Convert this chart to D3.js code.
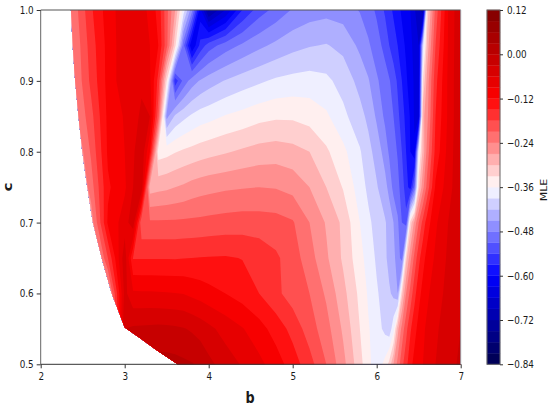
<!DOCTYPE html>
<html>
<head>
<meta charset="utf-8">
<script src="https://cdn.jsdelivr.net/npm/d3@7"></script>
<style>
  html, body { margin: 0; padding: 0; background: #fff; }
  svg { display: block; }
  text { font-family: "DejaVu Sans", sans-serif; fill: #1a1a1a; }
</style>
</head>
<body>
<div id="chart"></div>
<script>
// columns (b) and rows (c) of the value table
var bValues = [2.2,2.4,2.6,2.8,3.0,3.1,3.2,3.3,3.4,3.5,3.6,3.7,3.8,3.9,4.0,4.2,4.4,4.6,4.8,5.0,5.2,5.4,5.6,5.8,5.9,6.0,6.1,6.15,6.2,6.25,6.3,6.35,6.4,6.45,6.5,6.55,6.6,6.7,6.85,7.0];
var cValues = [1.0,0.95,0.9,0.85,0.8,0.75,0.7,0.65,0.6,0.55,0.5];

var mle100 = [-.30,-.225,-.155,-.105,-.072,-.06,-.075,-.10,-.13,-.20,-.27,-.375,-.47,-.62,-.73,-.66,-.57,-.525,-.50,-.477,-.465,-.46,-.465,-.482,-.497,-.515,-.545,-.56,-.575,-.59,-.605,-.62,-.63,-.655,-.69,-.72,-.32,-.20,-.09,-.03];
var mle095 = [-.30,-.235,-.165,-.11,-.07,-.06,-.07,-.09,-.12,-.20,-.32,-.50,-.63,-.56,-.525,-.495,-.475,-.457,-.443,-.43,-.422,-.418,-.428,-.457,-.475,-.497,-.52,-.54,-.555,-.57,-.59,-.605,-.622,-.64,-.66,-.40,-.29,-.18,-.088,-.03];
var mle090 = [-.30,-.24,-.172,-.11,-.07,-.062,-.065,-.085,-.16,-.33,-.56,-.50,-.465,-.447,-.435,-.418,-.405,-.395,-.385,-.38,-.377,-.383,-.402,-.43,-.447,-.475,-.497,-.507,-.525,-.545,-.57,-.595,-.615,-.635,-.655,-.33,-.26,-.16,-.085,-.03];
var mle085 = [-.30,-.25,-.19,-.113,-.087,-.07,-.055,-.06,-.2,-.46,-.415,-.398,-.385,-.375,-.37,-.358,-.35,-.34,-.335,-.335,-.342,-.355,-.382,-.41,-.427,-.455,-.487,-.498,-.51,-.532,-.555,-.58,-.603,-.635,-.645,-.28,-.25,-.15,-.085,-.03];
var mle080 = [-.35,-.28,-.205,-.115,-.09,-.065,-.035,-.12,-.345,-.34,-.332,-.325,-.32,-.315,-.31,-.303,-.295,-.288,-.285,-.29,-.30,-.325,-.352,-.387,-.41,-.432,-.463,-.485,-.497,-.513,-.54,-.57,-.60,-.625,-.37,-.29,-.23,-.14,-.08,-.03];
var mle075 = [-.35,-.30,-.225,-.125,-.095,-.06,-.035,-.285,-.28,-.276,-.27,-.265,-.258,-.253,-.25,-.245,-.242,-.24,-.242,-.25,-.27,-.30,-.332,-.375,-.397,-.417,-.44,-.46,-.49,-.50,-.525,-.555,-.585,-.50,-.31,-.25,-.20,-.115,-.075,-.03];
var mle070 = [-.37,-.33,-.26,-.115,-.075,-.04,-.205,-.205,-.205,-.205,-.205,-.204,-.203,-.202,-.20,-.197,-.195,-.196,-.198,-.207,-.24,-.273,-.307,-.36,-.383,-.402,-.417,-.432,-.45,-.475,-.51,-.53,-.32,-.26,-.21,-.17,-.135,-.095,-.06,-.03];
var mle065 = [-.41,-.36,-.31,-.18,-.04,-.152,-.152,-.152,-.152,-.152,-.152,-.151,-.15,-.149,-.148,-.147,-.151,-.16,-.175,-.195,-.227,-.265,-.305,-.35,-.372,-.395,-.413,-.432,-.443,-.462,-.495,-.31,-.25,-.20,-.16,-.13,-.11,-.085,-.055,-.03];
var mle060 = [-.44,-.40,-.36,-.27,-.05,-.085,-.086,-.086,-.087,-.088,-.089,-.091,-.097,-.103,-.11,-.12,-.133,-.15,-.172,-.195,-.21,-.245,-.29,-.338,-.364,-.386,-.405,-.415,-.428,-.45,-.31,-.24,-.20,-.16,-.13,-.11,-.095,-.075,-.05,-.03];
var mle055 = [-.47,-.44,-.40,-.32,-.03,-.025,-.024,-.023,-.022,-.023,-.025,-.028,-.034,-.042,-.052,-.072,-.088,-.108,-.133,-.16,-.195,-.228,-.275,-.33,-.357,-.377,-.398,-.41,-.37,-.28,-.23,-.19,-.155,-.13,-.11,-.095,-.085,-.065,-.045,-.03];
var mle050 = [-.5,-.46,-.4,-.3,0,.005,.01,.012,.012,.012,.01,.006,.002,-.006,-.022,-.044,-.063,-.082,-.105,-.135,-.168,-.21,-.26,-.32,-.35,-.38,-.35,-.32,-.27,-.23,-.19,-.16,-.13,-.11,-.10,-.09,-.08,-.06,-.04,-.025];

// edge of the solved region (white outside it)
var edgeB = [2.36,2.38,2.41,2.45,2.495,2.555,2.62,2.726,2.845,3.0,3.18,3.38,3.63];
var edgeC = [1.0,0.95,0.9,0.85,0.8,0.75,0.7,0.65,0.6,0.552,0.537,0.52,0.5];

var levels = [-0.84,-0.81,-0.78,-0.75,-0.72,-0.69,-0.66,-0.63,-0.60,-0.57,-0.54,-0.51,-0.48,-0.45,-0.42,-0.39,-0.36,-0.33,-0.30,-0.27,-0.24,-0.21,-0.18,-0.15,-0.12,-0.09,-0.06,-0.03,0,0.03,0.06,0.09,0.12];
var cbarTicks = [-0.84,-0.72,-0.60,-0.48,-0.36,-0.24,-0.12,0,0.12];
var bTicks = [2,3,4,5,6,7];
var cTicks = [0.5,0.6,0.7,0.8,0.9,1.0];

var seismicPos = [0,0.25,0.5,0.75,1];
var seismicCol = ["#00004d","#0000ff","#ffffff","#ff0000","#800000"];

var width = 550, height = 409;
var plot = {left: 40.7, right: 460.7, top: 10, bottom: 364.3};
var bar = {left: 487, right: 500};
var squeeze = 0.8; // the picture is narrowed a bit, text included

var svg = d3.select("#chart").append("svg")
    .attr("width", width)
    .attr("height", height);

var x = d3.scaleLinear().domain([2, 7]).range([plot.left, plot.right]);
var y = d3.scaleLinear().domain([0.5, 1]).range([plot.bottom, plot.top]);
var barY = d3.scaleLinear().domain([-0.84, 0.12]).range([plot.bottom, plot.top]);

var seismic = d3.scaleLinear().domain(seismicPos).range(seismicCol).interpolate(d3.interpolateRgb);
function bandColor(i) {
    var mid = (levels[i] + levels[i + 1]) / 2;
    return seismic((mid - levels[0]) / (levels[levels.length - 1] - levels[0]));
}

var rows = [mle100, mle095, mle090, mle085, mle080, mle075, mle070, mle065, mle060, mle055, mle050];
var grid = d3.merge(rows);

// grid index to data value, the table is not evenly spaced in b
var colToB = d3.scaleLinear().domain(d3.range(bValues.length)).range(bValues);
var rowToC = d3.scaleLinear().domain(d3.range(cValues.length)).range(cValues);

var project = d3.geoTransform({
    point: function(gx, gy) {
        this.stream.point(x(colToB(gx - 0.5)), y(rowToC(gy - 0.5)));
    }
});
var path = d3.geoPath(project);

var contours = d3.contours()
    .size([bValues.length, cValues.length])
    .thresholds(levels.slice(0, -1));

// clip to the solved region
var clipPoints = d3.zip(edgeB, edgeC).concat([[7, 0.5], [7, 1]]);
var clipLine = d3.line()
    .x(function(d) { return x(d[0]); })
    .y(function(d) { return y(d[1]); });

svg.append("clipPath").attr("id", "solved")
    .append("path")
    .attr("d", clipLine(clipPoints) + "Z");

var g = svg.append("g").attr("clip-path", "url(#solved)");

// lowest band first so the later ones paint over it
g.append("rect")
    .attr("x", plot.left)
    .attr("y", plot.top)
    .attr("width", plot.right - plot.left)
    .attr("height", plot.bottom - plot.top)
    .attr("fill", bandColor(0));

g.selectAll("path.band")
    .data(contours(grid))
    .enter().append("path")
    .attr("class", "band")
    .attr("d", path)
    .attr("fill", function(d, i) { return bandColor(i); });

// frame
var frame = svg.append("g").attr("stroke-width", 1).attr("fill", "none");
frame.append("line").attr("x1", plot.left).attr("x2", plot.right).attr("y1", plot.top).attr("y2", plot.top).attr("stroke", "#555");
frame.append("line").attr("x1", plot.left).attr("x2", plot.right).attr("y1", plot.bottom).attr("y2", plot.bottom).attr("stroke", "#333");
frame.append("line").attr("x1", plot.left).attr("x2", plot.left).attr("y1", plot.top).attr("y2", plot.bottom).attr("stroke", "#666");
frame.append("line").attr("x1", plot.right).attr("x2", plot.right).attr("y1", plot.top).attr("y2", plot.bottom).attr("stroke", "#9aa8b0");

function styleAxis(sel, textX) {
    sel.select(".domain").remove();
    sel.selectAll(".tick line").attr("stroke", "#333");
    sel.selectAll(".tick text")
        .style("font-size", "11px")
        .attr("x", textX / squeeze)
        .attr("transform", "scale(" + squeeze + ",1)");
}

var xAxis = svg.append("g")
    .attr("transform", "translate(0," + plot.bottom + ")")
    .call(d3.axisBottom(x).tickValues(bTicks).tickSize(4).tickFormat(d3.format("d")));
styleAxis(xAxis, 0);
xAxis.selectAll(".tick text").attr("y", 8).attr("dy", "0.71em");

var yAxis = svg.append("g")
    .attr("transform", "translate(" + plot.left + ",0)")
    .call(d3.axisLeft(y).tickValues(cTicks).tickSize(4).tickFormat(d3.format(".1f")));
styleAxis(yAxis, -7);

// colorbar
var barG = svg.append("g");
barG.selectAll("rect")
    .data(d3.range(levels.length - 1))
    .enter().append("rect")
    .attr("x", bar.left)
    .attr("width", bar.right - bar.left)
    .attr("y", function(i) { return barY(levels[i + 1]); })
    .attr("height", function(i) { return barY(levels[i]) - barY(levels[i + 1]); })
    .attr("fill", function(i) { return bandColor(i); })
    .attr("stroke", function(i) { return bandColor(i); })
    .attr("stroke-width", 0.3);

barG.append("rect")
    .attr("x", bar.left)
    .attr("y", plot.top)
    .attr("width", bar.right - bar.left)
    .attr("height", plot.bottom - plot.top)
    .attr("fill", "none")
    .attr("stroke", "#666");

var barAxis = svg.append("g")
    .attr("transform", "translate(" + bar.right + ",0)")
    .call(d3.axisRight(barY).tickValues(cbarTicks).tickSize(3).tickFormat(d3.format(".2f")));
styleAxis(barAxis, 7);

// axis titles
svg.append("text")
    .attr("transform", "translate(250,403) scale(" + squeeze + ",1)")
    .attr("text-anchor", "middle")
    .style("font-size", "16px")
    .style("font-weight", "bold")
    .text("b");

svg.append("text")
    .attr("transform", "translate(12,187) scale(" + squeeze + ",1) rotate(-90)")
    .attr("text-anchor", "middle")
    .style("font-size", "15px")
    .style("font-weight", "bold")
    .text("c");

svg.append("text")
    .attr("transform", "translate(547,190) scale(" + squeeze + ",1) rotate(-90)")
    .attr("text-anchor", "middle")
    .style("font-size", "11px")
    .text("MLE");
</script>
</body>
</html>
